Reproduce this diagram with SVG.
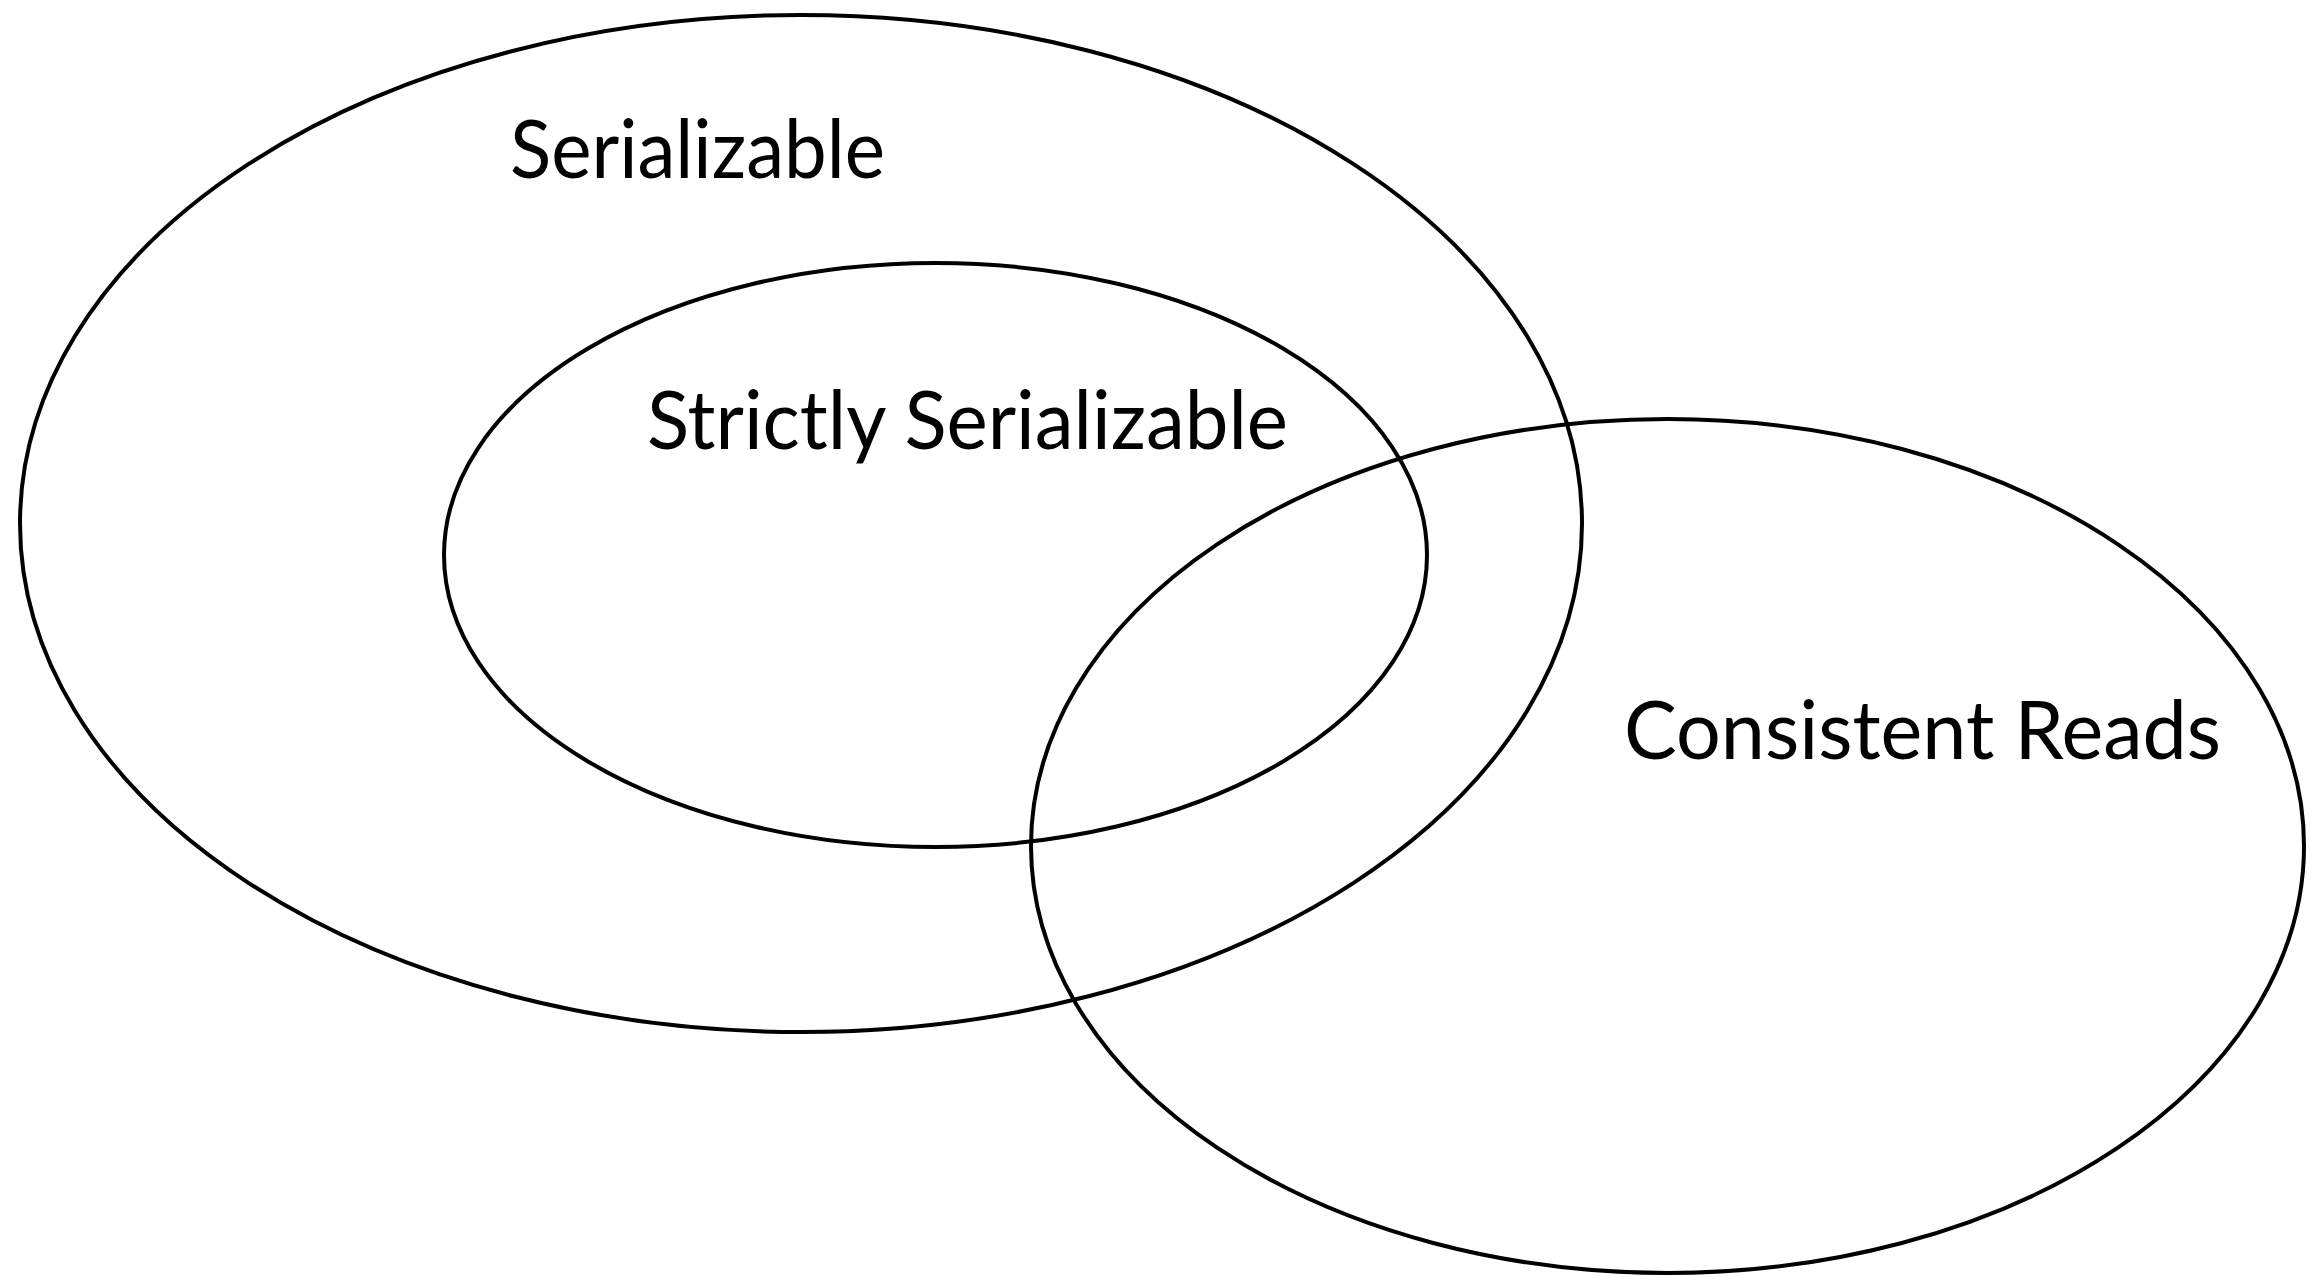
<svg xmlns="http://www.w3.org/2000/svg" width="2323" height="1277" viewBox="0 0 2323 1277">
<style>
.set{fill:none;stroke:#000;stroke-width:4}
.lbl{font-family:"Lato","Liberation Sans",sans-serif;font-size:82px;fill:#000}
</style>
<rect width="2323" height="1277" fill="#fff"/>
<g id="serializable">
<ellipse class="set" cx="801" cy="523.5" rx="781" ry="508.5"/>
<text class="lbl" x="510" y="178" textLength="375" lengthAdjust="spacingAndGlyphs">Serializable</text>
</g>
<g id="strictly-serializable">
<ellipse class="set" cx="935.5" cy="555" rx="491.5" ry="292"/>
<text class="lbl" x="647" y="449" textLength="641" lengthAdjust="spacingAndGlyphs">Strictly Serializable</text>
</g>
<g id="consistent-reads">
<ellipse class="set" cx="1667.5" cy="846" rx="636.5" ry="427"/>
<text class="lbl" x="1624" y="759" textLength="597" lengthAdjust="spacingAndGlyphs">Consistent Reads</text>
</g>
<g id="connectors"/>
</svg>
